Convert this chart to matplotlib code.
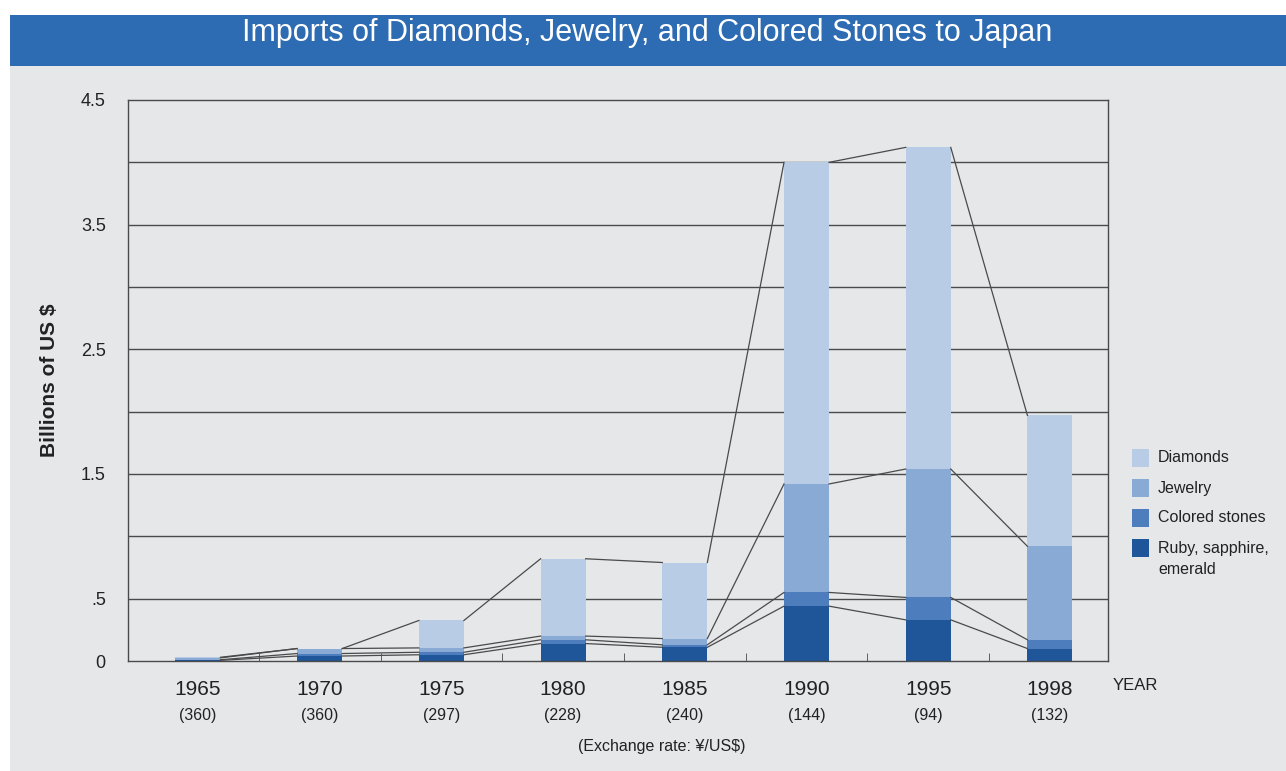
import matplotlib
matplotlib.use('Agg')
import matplotlib.pyplot as plt
import matplotlib.patches as mpatches
import matplotlib.transforms as mtransforms
import numpy as np

plt.rcParams['font.family'] = ['Liberation Sans', 'DejaVu Sans']

# ── data (billions of US $) ─────────────────────────────────────────────────
years    = ['1965', '1970', '1975', '1980', '1985', '1990', '1995', '1998']
fx_rates = ['(360)', '(360)', '(297)', '(228)', '(240)', '(144)', '(94)', '(132)']
ruby     = [0.005, 0.04, 0.05, 0.14, 0.11, 0.44, 0.33, 0.10]
colored  = [0.005, 0.02, 0.02, 0.03, 0.02, 0.11, 0.18, 0.07]
jewelry  = [0.015, 0.04, 0.035, 0.03, 0.05, 0.87, 1.03, 0.75]
diamonds = [0.005, 0.00, 0.22, 0.62, 0.61, 2.58, 2.58, 1.05]

series = [('Ruby, sapphire,\nemerald', ruby, '#1f5599'),
          ('Colored stones', colored, '#4d7dbd'),
          ('Jewelry', jewelry, '#8aaad6'),
          ('Diamonds', diamonds, '#b8cce6')]

PAPER = '#e6e7e9'
LINE  = '#4a4a4a'
W, H  = 1286, 771

fig = plt.figure(figsize=(W / 100, H / 100), dpi=100, facecolor='white')
# paper + title band
fig.add_artist(mpatches.Rectangle((10 / W, 0), 1, (H - 66) / H, transform=fig.transFigure,
                                  facecolor=PAPER, edgecolor='none', zorder=-10))
fig.add_artist(mpatches.Rectangle((10 / W, (H - 66) / H), 1, 51 / H, transform=fig.transFigure,
                                  facecolor='#2d6bb3', edgecolor='none', zorder=-10))
fig.text(647 / W, (H - 33) / H, 'Imports of Diamonds, Jewelry, and Colored Stones to Japan',
         color='white', fontsize=22, ha='center', va='center')

ax = fig.add_axes([128 / W, (H - 661) / H, 980 / W, 561 / H])
ax.set_facecolor(PAPER)

x = np.arange(len(years))
bw = 0.37
bottom = np.zeros(len(years))
tops = []
for name, vals, col in series:
    vals = np.array(vals)
    ax.bar(x, vals, bw, bottom=bottom, color=col, edgecolor='none', zorder=2)
    bottom = bottom + vals
    tops.append(bottom.copy())

# connector lines between bar edges for each cumulative layer
for t in tops:
    for i in range(len(years) - 1):
        ax.plot([x[i] + bw / 2, x[i + 1] - bw / 2], [t[i], t[i + 1]],
                color=LINE, lw=0.9, zorder=3)

ax.set_xlim(-0.575, 7.477)
ax.set_ylim(0, 4.5)
for yv in np.arange(0.5, 4.5, 0.5):
    ax.axhline(yv, color=LINE, lw=1.0, zorder=1)
for s in ax.spines.values():
    s.set_color(LINE)
    s.set_linewidth(1.0)

ax.set_yticks([0, 0.5, 1.5, 2.5, 3.5, 4.5])
ax.set_yticklabels(['0', '.5', '1.5', '2.5', '3.5', '4.5'])
ax.tick_params(axis='y', length=0, pad=16, labelsize=13, colors='#222222')

ax.set_xticks(x)
ax.set_xticklabels(years)
ax.tick_params(axis='x', length=0, pad=14, labelsize=15, colors='#222222')
ax.set_xticks(x[:-1] + 0.5, minor=True)
ax.tick_params(axis='x', which='minor', direction='in', length=6, color=LINE)

trans = mtransforms.blended_transform_factory(ax.transData, ax.transAxes)
for xi, r in zip(x, fx_rates):
    ax.text(xi, -0.098, r, transform=trans, ha='center', va='center',
            fontsize=11.5, color='#222222')

ax.set_ylabel('Billions of US $', fontsize=15, fontweight='bold', color='#222222', labelpad=16)

fig.text(1135 / W, (H - 686) / H, 'YEAR', fontsize=12, ha='center', va='center', color='#222222')
fig.text(662 / W, (H - 746) / H, '(Exchange rate: \u00a5/US$)', fontsize=11.5,
         ha='center', va='center', color='#222222')

# legend
leg_items = [('Diamonds', '#b8cce6', 458), ('Jewelry', '#8aaad6', 488),
             ('Colored stones', '#4d7dbd', 518), ('Ruby, sapphire,', '#1f5599', 548)]
for lab, col, yp in leg_items:
    fig.add_artist(mpatches.Rectangle((1132 / W, (H - yp - 9) / H), 17 / W, 18 / H,
                                      transform=fig.transFigure, facecolor=col, edgecolor='none'))
    fig.text(1158 / W, (H - yp) / H, lab, fontsize=11.5, va='center', ha='left', color='#222222')
fig.text(1158 / W, (H - 570) / H, 'emerald', fontsize=11.5, va='center', ha='left', color='#222222')

fig.savefig('out.png', dpi=100, facecolor='white')
